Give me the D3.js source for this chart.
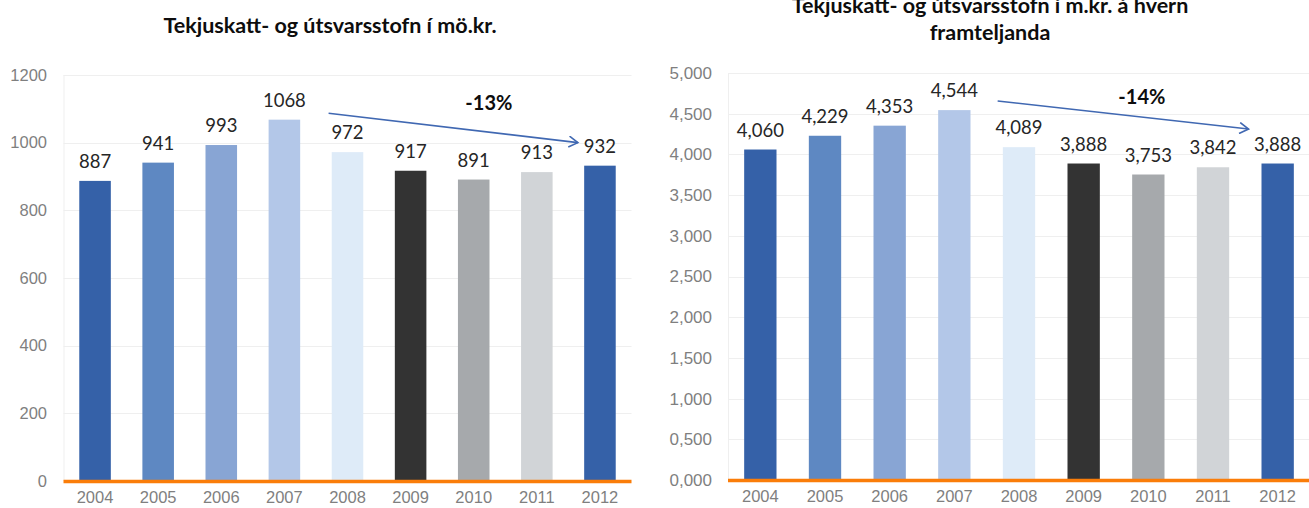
<!DOCTYPE html>
<html>
<head>
<meta charset="utf-8">
<script src="https://cdn.jsdelivr.net/npm/d3@7"></script>
<style>
  html, body { margin: 0; padding: 0; background: #fff; }
  svg { display: block; }
</style>
</head>
<body>
<svg id="chart" width="1309" height="508"></svg>
<script>
// ---------- data ----------
const years = ["2004","2005","2006","2007","2008","2009","2010","2011","2012"];
const baseValues = [887, 941, 993, 1068, 972, 917, 891, 913, 932];
const perCapitaValues = [4060, 4229, 4353, 4544, 4089, 3888, 3753, 3842, 3888];
const barColors = ["#3561A8","#5E88C2","#88A5D4","#B3C7E8","#DEEBF8","#333333","#A6A9AC","#D1D4D7","#3561A8"];
const leftTicks = [0, 200, 400, 600, 800, 1000, 1200];
const leftTickLabels = ["0","200","400","600","800","1000","1200"];
const rightTicks = [0, 500, 1000, 1500, 2000, 2500, 3000, 3500, 4000, 4500, 5000];
const rightTickLabels = ["0,000","0,500","1,000","1,500","2,000","2,500","3,000","3,500","4,000","4,500","5,000"];
const leftTitle = ["Tekjuskatt- og útsvarsstofn í mö.kr."];
const rightTitle = ["Tekjuskatt- og útsvarsstofn í m.kr. á hvern", "framteljanda"];
// annotation arrows (in data units: year + band offset, value)
const leftArrow = { from: ["2007", 0.7, 1087], to: ["2012", -0.35, 1000], label: "-13%", labelAt: ["2010", 0.24, 1117] };
const rightArrow = { from: ["2007", 0.67, 4656], to: ["2012", -0.45, 4312], label: "-14%", labelAt: ["2010", -0.1, 4705] };

const svg = d3.select("#chart");

const defs = svg.append("defs");
defs.append("marker")
  .attr("id", "chev")
  .attr("viewBox", "-10 -6 12 12")
  .attr("refX", 0).attr("refY", 0)
  .attr("markerWidth", 12).attr("markerHeight", 12)
  .attr("markerUnits", "userSpaceOnUse")
  .attr("orient", "auto")
  .append("path")
  .attr("d", "M-9,-5.5 L0,0 L-9,5.5")
  .attr("fill", "none")
  .attr("stroke", "#4068B2")
  .attr("stroke-width", 1.6);

function drawPanel(cfg) {
  const g = svg.append("g");
  const x = d3.scaleBand().domain(years).range(cfg.xRange).paddingInner(0.5).paddingOuter(0.25);
  const y = d3.scaleLinear().domain(cfg.yDomain).range(cfg.yRange);
  const [x0, x1] = cfg.xRange;
  const x1c = Math.min(x1, 1309);

  // gridlines
  g.append("g").selectAll("line").data(cfg.ticks.filter(t => t > 0)).join("line")
    .attr("x1", x0).attr("x2", x1c)
    .attr("y1", d => Math.round(y(d)) + 0.5).attr("y2", d => Math.round(y(d)) + 0.5)
    .attr("stroke", "#EFEFEF").attr("stroke-width", 1);
  // left plot border
  g.append("line")
    .attr("x1", x0 + 0.5).attr("x2", x0 + 0.5)
    .attr("y1", y(cfg.yDomain[1])).attr("y2", y(0))
    .attr("stroke", "#EFEFEF");

  // y tick labels
  g.append("g").selectAll("text").data(cfg.ticks).join("text")
    .attr("x", cfg.tickX).attr("y", d => y(d))
    .attr("dy", "0.35em")
    .attr("text-anchor", "end")
    .attr("font-family", "'Liberation Sans', Arial, sans-serif")
    .attr("font-size", cfg.tickSize)
    .attr("fill", "#7F7F7F")
    .text((d, i) => cfg.tickLabels[i]);

  // bars
  g.append("g").selectAll("rect").data(cfg.values).join("rect")
    .attr("x", (d, i) => x(years[i]))
    .attr("width", x.bandwidth())
    .attr("y", d => y(d))
    .attr("height", d => y(0) - y(d))
    .attr("fill", (d, i) => barColors[i]);

  // data labels
  g.append("g").selectAll("text").data(cfg.values).join("text")
    .attr("x", (d, i) => x(years[i]) + x.bandwidth() / 2)
    .attr("y", d => y(d) - 13)
    .attr("text-anchor", "middle")
    .attr("font-family", "Lato, 'Open Sans', sans-serif")
    .attr("font-size", 18.5)
    .attr("fill", "#262626")
    .text(d => cfg.fmt(d));

  // x-axis baseline (orange)
  g.append("line")
    .attr("x1", x0).attr("x2", x1c)
    .attr("y1", y(0) + 0.5).attr("y2", y(0) + 0.5)
    .attr("stroke", "#FA7D09").attr("stroke-width", 3.5);

  // x labels
  g.append("g").selectAll("text").data(years).join("text")
    .attr("x", d => x(d) + x.bandwidth() / 2)
    .attr("y", y(0) + 22)
    .attr("text-anchor", "middle")
    .attr("font-family", "'Liberation Sans', Arial, sans-serif")
    .attr("font-size", 16.5)
    .attr("fill", "#7F7F7F")
    .text(d => d);

  // title
  g.append("g").selectAll("text").data(cfg.title).join("text")
    .attr("x", cfg.titleX)
    .attr("y", (d, i) => cfg.titleY + i * 27)
    .attr("text-anchor", "middle")
    .attr("font-family", "Lato, 'Open Sans', sans-serif")
    .attr("font-weight", "bold")
    .attr("font-size", 21.5)
    .attr("fill", "#0D0D0D")
    .text(d => d);

  // arrow annotation
  const px = p => x(p[0]) + x.bandwidth() / 2 + p[1] * x.step();
  const a = cfg.arrow;
  g.append("line")
    .attr("x1", px(a.from)).attr("y1", y(a.from[2]))
    .attr("x2", px(a.to)).attr("y2", y(a.to[2]))
    .attr("stroke", "#4068B2").attr("stroke-width", 1.6)
    .attr("marker-end", "url(#chev)");
  g.append("text")
    .attr("x", px(a.labelAt)).attr("y", y(a.labelAt[2]))
    .attr("dy", "0.35em")
    .attr("text-anchor", "middle")
    .attr("font-family", "Lato, 'Open Sans', sans-serif")
    .attr("font-weight", "bold")
    .attr("font-size", 20)
    .attr("fill", "#0D0D0D")
    .text(a.label);
}

drawPanel({
  values: baseValues, xRange: [63.5, 631.5], yDomain: [0, 1200], yRange: [481, 75],
  ticks: leftTicks, tickLabels: leftTickLabels, tickX: 47, tickSize: 16.5,
  fmt: d3.format("d"), title: leftTitle, titleX: 330, titleY: 33, arrow: leftArrow
});
drawPanel({
  values: perCapitaValues, xRange: [728, 1310], yDomain: [0, 5000], yRange: [480, 73],
  ticks: rightTicks, tickLabels: rightTickLabels, tickX: 712, tickSize: 17,
  fmt: d3.format(","), title: rightTitle, titleX: 990, titleY: 13, arrow: rightArrow
});
</script>
</body>
</html>
